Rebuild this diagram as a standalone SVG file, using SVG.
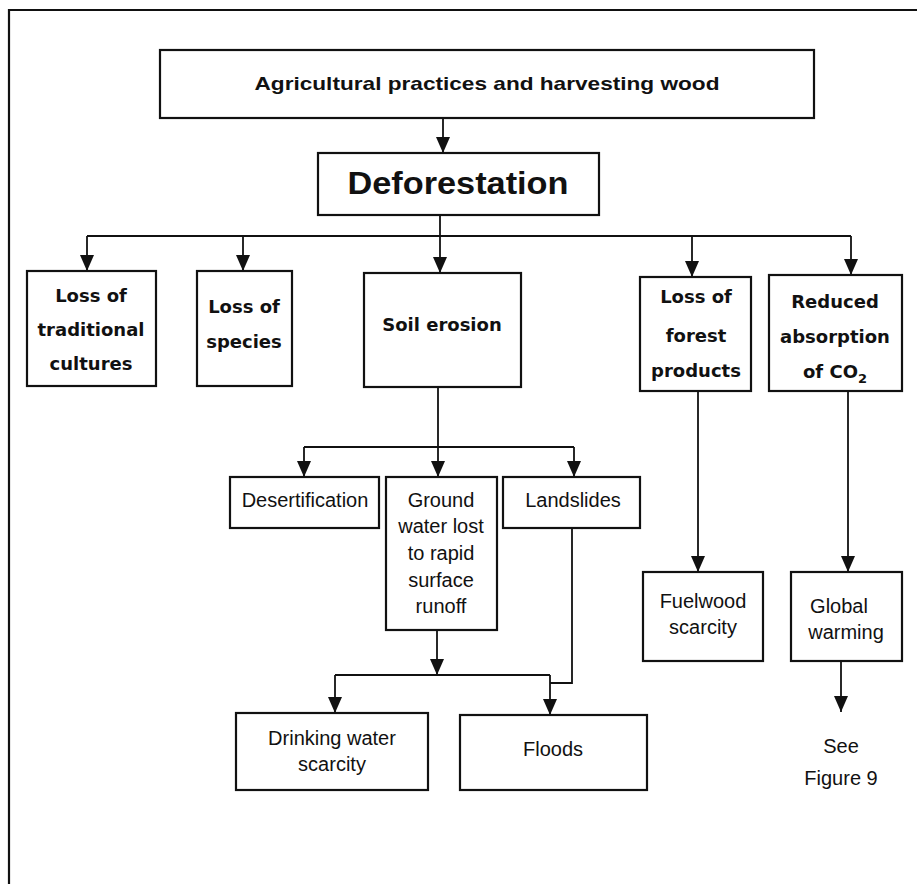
<svg xmlns="http://www.w3.org/2000/svg" width="917" height="884" viewBox="0 0 917 884">
<defs>
<marker id="ah" markerUnits="userSpaceOnUse" markerWidth="16" markerHeight="14" viewBox="0 -7 16 14" refX="16" refY="0" orient="auto">
<path d="M0,-7 L16,0 L0,7 z" fill="#111"/>
</marker>
<style>
.box{fill:#fff;stroke:#111;stroke-width:2.2}
.b{font-family:"DejaVu Sans","Liberation Sans",sans-serif;font-weight:bold;font-size:18px;fill:#111;text-anchor:middle}
.r{font-family:"Liberation Sans",Arial,sans-serif;font-size:20px;fill:#111;text-anchor:middle}
.c{fill:none;stroke:#111;stroke-width:1.8}
.ca{fill:none;stroke:#111;stroke-width:1.8;marker-end:url(#ah)}
</style>
</defs>
<rect width="917" height="884" fill="#fff"/>
<path d="M9,884 V10 H917" fill="none" stroke="#111" stroke-width="2.2"/>

<g id="connectors">
<path class="ca" d="M443,118 V153"/>
<path class="c" d="M440,215 V236 M87,236 H851"/>
<path class="ca" d="M87,236 V271"/>
<path class="ca" d="M243,236 V271"/>
<path class="ca" d="M440,236 V273"/>
<path class="ca" d="M692,236 V277"/>
<path class="ca" d="M851,236 V275"/>
<path class="c" d="M438,387 V447 M304,447 H574"/>
<path class="ca" d="M304,447 V477"/>
<path class="ca" d="M438,447 V477"/>
<path class="ca" d="M574,447 V477"/>
<path class="ca" d="M437,630 V675"/>
<path class="c" d="M335,675 H550 M572,528 V683 H550"/>
<path class="ca" d="M335,675 V713"/>
<path class="ca" d="M550,675 V715"/>
<path class="ca" d="M698,391 V572"/>
<path class="ca" d="M848,391 V572"/>
<path class="ca" d="M841,661 V712"/>
</g>

<g id="agri">
<rect class="box" x="160" y="50" width="654" height="68"/>
<text x="487" y="90" font-family="Liberation Sans, Arial, sans-serif" font-weight="bold" font-size="19" text-anchor="middle" textLength="465" lengthAdjust="spacingAndGlyphs" fill="#111">Agricultural practices and harvesting wood</text>
</g>

<g id="deforestation">
<rect class="box" x="318" y="153" width="281" height="62"/>
<text x="458" y="194" font-family="Liberation Sans, Arial, sans-serif" font-weight="bold" font-size="31" text-anchor="middle" textLength="221" lengthAdjust="spacingAndGlyphs" fill="#111">Deforestation</text>
</g>

<g id="traditional">
<rect class="box" x="27" y="271" width="129" height="115"/>
<text class="b" x="91" y="302">Loss of</text>
<text class="b" x="91" y="336">traditional</text>
<text class="b" x="91" y="370">cultures</text>
</g>

<g id="species">
<rect class="box" x="197" y="271" width="95" height="115"/>
<text class="b" x="244" y="313">Loss of</text>
<text class="b" x="244" y="348">species</text>
</g>

<g id="soil">
<rect class="box" x="364" y="273" width="157" height="114"/>
<text class="b" x="442" y="331">Soil erosion</text>
</g>

<g id="forestproducts">
<rect class="box" x="640" y="277" width="111" height="114"/>
<text class="b" x="696" y="303">Loss of</text>
<text class="b" x="696" y="342">forest</text>
<text class="b" x="696" y="377">products</text>
</g>

<g id="co2">
<rect class="box" x="769" y="275" width="133" height="116"/>
<text class="b" x="835" y="308">Reduced</text>
<text class="b" x="835" y="343">absorption</text>
<text class="b" x="835" y="378">of CO<tspan font-size="13" dy="5">2</tspan></text>
</g>

<g id="desertification">
<rect class="box" x="230" y="477" width="149" height="51"/>
<text class="r" x="305" y="507">Desertification</text>
</g>

<g id="groundwater">
<rect class="box" x="386" y="477" width="111" height="153"/>
<text class="r" x="441" y="507">Ground</text>
<text class="r" x="441" y="533">water lost</text>
<text class="r" x="441" y="560">to rapid</text>
<text class="r" x="441" y="587">surface</text>
<text class="r" x="441" y="613">runoff</text>
</g>

<g id="landslides">
<rect class="box" x="503" y="477" width="137" height="51"/>
<text class="r" x="573" y="507">Landslides</text>
</g>

<g id="drinking">
<rect class="box" x="236" y="713" width="192" height="77"/>
<text class="r" x="332" y="745">Drinking water</text>
<text class="r" x="332" y="771">scarcity</text>
</g>

<g id="floods">
<rect class="box" x="460" y="715" width="187" height="75"/>
<text class="r" x="553" y="756">Floods</text>
</g>

<g id="fuelwood">
<rect class="box" x="643" y="572" width="120" height="89"/>
<text class="r" x="703" y="608">Fuelwood</text>
<text class="r" x="703" y="634">scarcity</text>
</g>

<g id="warming">
<rect class="box" x="791" y="572" width="111" height="89"/>
<text class="r" x="839" y="613">Global</text>
<text class="r" x="846" y="639">warming</text>
</g>

<g id="seefig">
<text class="r" x="841" y="753">See</text>
<text class="r" x="841" y="785">Figure 9</text>
</g>
</svg>
